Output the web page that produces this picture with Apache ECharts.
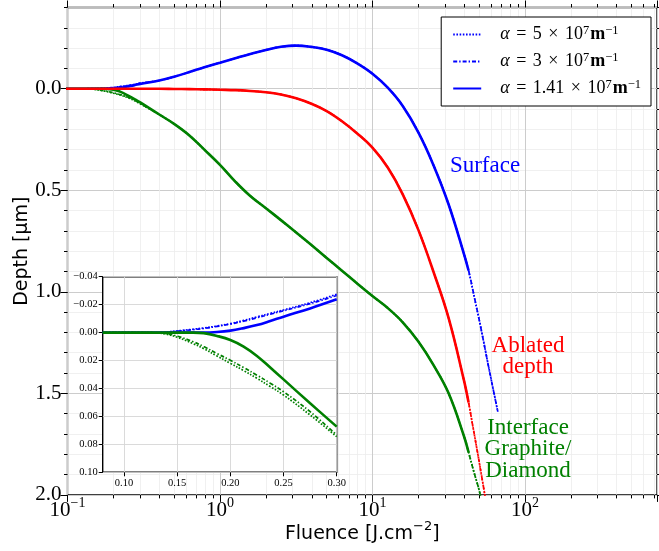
<!DOCTYPE html>
<html>
<head>
<meta charset="utf-8">
<script src="https://cdn.jsdelivr.net/npm/echarts@6/dist/echarts.min.js"></script>
<style>
  html, body { margin: 0; padding: 0; background: #fff; }
  #chart { width: 659px; height: 551px; }
</style>
</head>
<body>
<div id="chart"></div>
<script>
// ---- Data (fluence in J/cm², depth in µm; negative depth = swelling above surface) ----

// Low-fluence part, shared by the main plot and the zoomed inset
const lowFluence      = [0.08, 0.12, 0.13, 0.14, 0.15, 0.165, 0.175, 0.1875, 0.20, 0.2125, 0.225, 0.2375, 0.25, 0.275, 0.30];
const surfaceLow5     = [0, 0, 0, -0.0004, -0.0012, -0.0024, -0.0033, -0.0047, -0.0064, -0.0087, -0.0112, -0.0137, -0.0162, -0.0214, -0.0275];
const surfaceLow3     = [0, 0, 0, -0.0003, -0.0010, -0.0021, -0.0030, -0.0044, -0.0061, -0.0082, -0.0106, -0.0131, -0.0156, -0.0207, -0.0265];
const surfaceLow141   = [0, 0, 0, 0, 0, 0, 0, -0.0004, -0.0014, -0.0032, -0.0054, -0.0083, -0.0114, -0.0173, -0.0238];
const ablatedLow      = [0, 0, 0, 0, 0, 0, 0, 0, 0, 0, 0, 0, 0, 0, 0];
const interfaceLow5   = [0, 0, 0.0002, 0.0012, 0.0033, 0.0079, 0.0115, 0.0168, 0.0220, 0.0272, 0.0327, 0.0386, 0.0447, 0.0590, 0.0745];
const interfaceLow3   = [0, 0, 0.0001, 0.0008, 0.0025, 0.0065, 0.0100, 0.0150, 0.0198, 0.0250, 0.0305, 0.0362, 0.0423, 0.0566, 0.0733];
const interfaceLow141 = [0, 0, 0, 0, 0, 0, 0.0004, 0.0024, 0.0053, 0.0100, 0.0167, 0.0250, 0.0335, 0.0506, 0.0673];

// Main part, common to the three absorption coefficients
const bodyFluence   = [0.4, 0.5, 0.63, 0.79, 1, 1.26, 1.58, 2, 2.51, 3.16, 3.98, 5.01, 6.31, 7.94, 10, 12.6, 15.8, 20, 25.1, 31.6, 39.8, 42.7];
const surfaceBody   = [-0.0405, -0.059, -0.082, -0.106, -0.128, -0.150, -0.171, -0.191, -0.2065, -0.2125, -0.206, -0.192, -0.165, -0.125, -0.074, -0.005, 0.085, 0.215, 0.375, 0.570, 0.813, 0.895];
const ablatedBody   = [0, 0.001, 0.002, 0.003, 0.005, 0.007, 0.011, 0.017, 0.028, 0.047, 0.074, 0.110, 0.160, 0.220, 0.290, 0.388, 0.520, 0.695, 0.900, 1.130, 1.435, 1.545];
const interfaceBody = [0.127, 0.173, 0.230, 0.300, 0.375, 0.457, 0.528, 0.588, 0.647, 0.708, 0.770, 0.833, 0.896, 0.959, 1.021, 1.080, 1.150, 1.245, 1.360, 1.500, 1.710, 1.790];

// High-fluence continuation, reached only by the two larger coefficients
const surfaceTailFluence   = [47, 51.2, 58, 66.4];
const surfaceTail          = [1.04, 1.171, 1.375, 1.59];
const ablatedTailFluence   = [45.5, 48.6, 54.3, 57];
const ablatedTail          = [1.66, 1.78, 1.99, 2.09];
const interfaceTailFluence = [46, 50.6, 53];
const interfaceTail        = [1.88, 1.99, 2.07];

// Axis ticks
const depthMajorTicks     = [0, 0.5, 1.0, 1.5, 2.0];
const minorFluenceTicks   = [0.2, 0.3, 0.4, 0.5, 0.6, 0.7, 0.8, 0.9, 2, 3, 4, 5, 6, 7, 8, 9,
                             20, 30, 40, 50, 60, 70, 80, 90, 200, 300, 400, 500, 600, 700];
const insetFluenceTicks   = [0.10, 0.15, 0.20, 0.25, 0.30];

// ---- Helpers ----
const pairs = (xs, ys) => xs.map((x, i) => [x, ys[i]]);
const SERIF = 'Liberation Serif';
const SANS = 'DejaVu Sans';
const BLUE = '#0000ff', RED = '#ff0000', GREEN = '#008000';

const LINE = {
  dot:     { type: [1.6, 1.6], width: 1.7 },
  dashdot: { type: [4, 2, 1.4, 2], width: 1.7 },
  solid:   { type: 'solid', width: 2.6 }
};

function curve(name, color, style, data, axisIdx, z) {
  return {
    name: name,
    type: 'line',
    xAxisIndex: axisIdx,
    yAxisIndex: axisIdx === 0 ? 0 : 4,
    data: data,
    symbol: 'none',
    smooth: 0.4,
    clip: true,
    z: z,
    silent: true,
    lineStyle: Object.assign({ color: color }, LINE[style]),
    itemStyle: { color: color }
  };
}

const mainX = 0, insetX = 4;
const series = [
  // surface
  curve('alpha5',   BLUE, 'dot',     pairs(lowFluence, surfaceLow5).concat(pairs(bodyFluence, surfaceBody), pairs(surfaceTailFluence, surfaceTail)), mainX, 2),
  curve('alpha3',   BLUE, 'dashdot', pairs(lowFluence, surfaceLow3).concat(pairs(bodyFluence, surfaceBody), pairs(surfaceTailFluence, surfaceTail)), mainX, 2),
  curve('alpha141', BLUE, 'solid',   pairs(lowFluence, surfaceLow141).concat(pairs(bodyFluence, surfaceBody)), mainX, 2),
  // interface graphite / diamond
  curve('interface5',   GREEN, 'dot',     pairs(lowFluence, interfaceLow5).concat(pairs(bodyFluence, interfaceBody), pairs(interfaceTailFluence, interfaceTail)), mainX, 2),
  curve('interface3',   GREEN, 'dashdot', pairs(lowFluence, interfaceLow3).concat(pairs(bodyFluence, interfaceBody), pairs(interfaceTailFluence, interfaceTail)), mainX, 2),
  curve('interface141', GREEN, 'solid',   pairs(lowFluence, interfaceLow141).concat(pairs(bodyFluence, interfaceBody)), mainX, 2),
  // ablated depth
  curve('ablated5',   RED, 'dot',     pairs(lowFluence, ablatedLow).concat(pairs(bodyFluence, ablatedBody), pairs(ablatedTailFluence, ablatedTail)), mainX, 2),
  curve('ablated3',   RED, 'dashdot', pairs(lowFluence, ablatedLow).concat(pairs(bodyFluence, ablatedBody), pairs(ablatedTailFluence, ablatedTail)), mainX, 2),
  curve('ablated141', RED, 'solid',   pairs(lowFluence, ablatedLow).concat(pairs(bodyFluence, ablatedBody)), mainX, 2),
  // inset
  curve('inSurface5',     BLUE,  'dot',     pairs(lowFluence, surfaceLow5), insetX, 12),
  curve('inSurface3',     BLUE,  'dashdot', pairs(lowFluence, surfaceLow3), insetX, 12),
  curve('inSurface141',   BLUE,  'solid',   pairs(lowFluence, surfaceLow141), insetX, 12),
  curve('inInterface5',   GREEN, 'dot',     pairs(lowFluence, interfaceLow5), insetX, 12),
  curve('inInterface3',   GREEN, 'dashdot', pairs(lowFluence, interfaceLow3), insetX, 12),
  curve('inInterface141', GREEN, 'solid',   pairs(lowFluence, interfaceLow141), insetX, 12)
];

// ---- Axes ----
const FMIN = 0.1, FMAX = 735;
const tickLine = { color: '#000', width: 1 };
const majorGrid = { color: '#cccccc', width: 1 };
const minorGrid = { color: '#ececec', width: 0.8 };
const noLine = { show: false, onZero: false };

function powerLabel(v) {
  const l = Math.log10(v), e = Math.round(l);
  if (Math.abs(l - e) > 1e-6) return '';
  return '10{s|' + (e < 0 ? '\u2212' + (-e) : String(e)) + '}';
}

const xAxes = [
  { // bottom, decades
    type: 'log', gridIndex: 0, position: 'bottom', min: FMIN, max: FMAX, logBase: 10,
    axisLine: noLine,
    axisTick: { length: 7, lineStyle: tickLine },
    splitLine: { show: true, lineStyle: majorGrid },
    axisLabel: {
      formatter: powerLabel, margin: 1, color: '#000',
      fontFamily: SERIF, fontSize: 21, lineHeight: 30,
      rich: { s: { fontFamily: SERIF, fontSize: 14, lineHeight: 13, verticalAlign: 'top', color: '#000' } }
    },
    name: 'Fluence [J.cm{s|\u22122}]', nameLocation: 'middle', nameGap: 25, nameMoveOverlap: false,
    nameTextStyle: {
      fontFamily: SANS, fontSize: 19, color: '#000', lineHeight: 28,
      rich: { s: { fontFamily: SANS, fontSize: 13, lineHeight: 13, verticalAlign: 'top', color: '#000' } }
    }
  },
  { // bottom, minor
    type: 'log', gridIndex: 0, position: 'bottom', min: FMIN, max: FMAX, logBase: 10,
    axisLine: noLine,
    axisTick: { length: 3.5, lineStyle: tickLine, customValues: minorFluenceTicks },
    axisLabel: { show: false },
    splitLine: { show: true, lineStyle: minorGrid }
  },
  { // top, decades
    type: 'log', gridIndex: 0, position: 'top', min: FMIN, max: FMAX, logBase: 10,
    axisLine: noLine, axisLabel: { show: false }, splitLine: { show: false },
    axisTick: { length: 7, lineStyle: tickLine }
  },
  { // top, minor
    type: 'log', gridIndex: 0, position: 'top', min: FMIN, max: FMAX, logBase: 10,
    axisLine: noLine, axisLabel: { show: false }, splitLine: { show: false },
    axisTick: { length: 3.5, lineStyle: tickLine, customValues: minorFluenceTicks }
  },
  { // inset
    type: 'value', gridIndex: 1, position: 'bottom', min: 0.08, max: 0.30, z: 11,
    axisLine: noLine,
    axisTick: { length: 4, lineStyle: tickLine, customValues: insetFluenceTicks },
    splitLine: { show: true, lineStyle: { color: '#d6d6d6', width: 0.9 } },
    axisLabel: {
      customValues: insetFluenceTicks, formatter: v => v.toFixed(2),
      fontFamily: SERIF, fontSize: 10.5, color: '#000', margin: 5
    }
  }
];

const yAxes = [
  { // left, every 0.1
    type: 'value', gridIndex: 0, position: 'left', min: -0.4, max: 2.0, interval: 0.1, inverse: true,
    axisLine: noLine,
    axisTick: { length: 3.5, lineStyle: tickLine },
    axisLabel: { show: false },
    splitLine: { show: true, lineStyle: minorGrid }
  },
  { // left, labelled
    type: 'value', gridIndex: 0, position: 'left', min: -0.4, max: 2.0, inverse: true,
    axisLine: noLine,
    axisTick: { length: 7, lineStyle: tickLine, customValues: depthMajorTicks },
    axisLabel: {
      customValues: depthMajorTicks, formatter: v => v.toFixed(1),
      fontFamily: SERIF, fontSize: 21, color: '#000', margin: 6
    },
    splitLine: { show: true, lineStyle: majorGrid },
    name: 'Depth [\u00b5m]', nameLocation: 'middle', nameGap: 36, nameMoveOverlap: false,
    nameTextStyle: { fontFamily: SANS, fontSize: 19, color: '#000' }
  },
  { // right, every 0.1
    type: 'value', gridIndex: 0, position: 'right', min: -0.4, max: 2.0, interval: 0.1, inverse: true,
    axisLine: noLine, axisLabel: { show: false }, splitLine: { show: false },
    axisTick: { length: 3.5, lineStyle: tickLine }
  },
  { // right, major
    type: 'value', gridIndex: 0, position: 'right', min: -0.4, max: 2.0, inverse: true,
    axisLine: noLine, axisLabel: { show: false }, splitLine: { show: false },
    axisTick: { length: 7, lineStyle: tickLine, customValues: depthMajorTicks }
  },
  { // inset
    type: 'value', gridIndex: 1, position: 'left', min: -0.04, max: 0.10, interval: 0.02, inverse: true, z: 11,
    axisLine: noLine,
    axisTick: { length: 4, lineStyle: tickLine },
    splitLine: { show: true, lineStyle: { color: '#d6d6d6', width: 0.9 } },
    axisLabel: {
      formatter: v => (v < -1e-9 ? '\u2212' : '') + Math.abs(v).toFixed(2),
      fontFamily: SERIF, fontSize: 10.5, color: '#000', margin: 5
    }
  }
];

// ---- Legend text (LaTeX-like) ----
const legendText = {
  alpha5:   '{g|}{i|\u03b1}{op|=}5{op|\u00d7}10{s|7}{b|m}{s|\u22121}',
  alpha3:   '{g|}{i|\u03b1}{op|=}3{op|\u00d7}10{s|7}{b|m}{s|\u22121}',
  alpha141: '{g|}{i|\u03b1}{op|=}1.41{op|\u00d7}10{s|7}{b|m}{s|\u22121}'
};

const chart = echarts.init(document.getElementById('chart'), null, { renderer: 'canvas' });
chart.setOption({
  animation: false,
  backgroundColor: '#ffffff',
  grid: [
    { left: 67.5, top: 7.5, width: 589.5, height: 487.4, outerBoundsMode: 'none', containLabel: false,
      show: true, borderColor: '#000', borderWidth: 1.3, backgroundColor: 'transparent' },
    { left: 102.7, top: 276.7, width: 234, height: 195.6, outerBoundsMode: 'none', containLabel: false,
      show: true, borderColor: '#000', borderWidth: 1.4, backgroundColor: '#ffffff', z: 10 }
  ],
  xAxis: xAxes,
  yAxis: yAxes,
  legend: {
    data: ['alpha5', 'alpha3', 'alpha141'],
    orient: 'vertical',
    right: 8, top: 17,
    itemWidth: 28, itemHeight: 14, itemGap: 6,
    padding: [7, 10, 7, 11],
    backgroundColor: '#ffffff',
    borderColor: '#000', borderWidth: 1, borderRadius: 0,
    selectedMode: false,
    itemStyle: { opacity: 0 },
    formatter: n => legendText[n],
    textStyle: {
      fontFamily: SERIF, fontSize: 18, color: '#000', lineHeight: 21,
      rich: {
        g:  { width: 14, fontFamily: SERIF, fontSize: 18, lineHeight: 21 },
        i:  { fontFamily: SERIF, fontStyle: 'italic', fontSize: 18, lineHeight: 21, color: '#000' },
        op: { fontFamily: SERIF, fontSize: 18, lineHeight: 21, color: '#000', padding: [0, 6.5, 0, 6.5] },
        s:  { fontFamily: SERIF, fontSize: 12.5, lineHeight: 12, verticalAlign: 'top', color: '#000' },
        b:  { fontFamily: SERIF, fontWeight: 'bold', fontSize: 18, lineHeight: 21, color: '#000', padding: [0, 0, 0, 1] }
      }
    }
  },
  graphic: [
    { type: 'text', x: 485, y: 166, z: 20, silent: true,
      style: { text: 'Surface', fill: BLUE, font: '23px "Liberation Serif"', align: 'center', verticalAlign: 'middle' } },
    { type: 'text', x: 528, y: 356.5, z: 20, silent: true,
      style: { text: 'Ablated\ndepth', fill: RED, font: '23px "Liberation Serif"', align: 'center', verticalAlign: 'middle', lineHeight: 21 } },
    { type: 'text', x: 528, y: 449, z: 20, silent: true,
      style: { text: 'Interface\nGraphite/\nDiamond', fill: GREEN, font: '23px "Liberation Serif"', align: 'center', verticalAlign: 'middle', lineHeight: 21.5 } }
  ],
  series: series
});
</script>
</body>
</html>
